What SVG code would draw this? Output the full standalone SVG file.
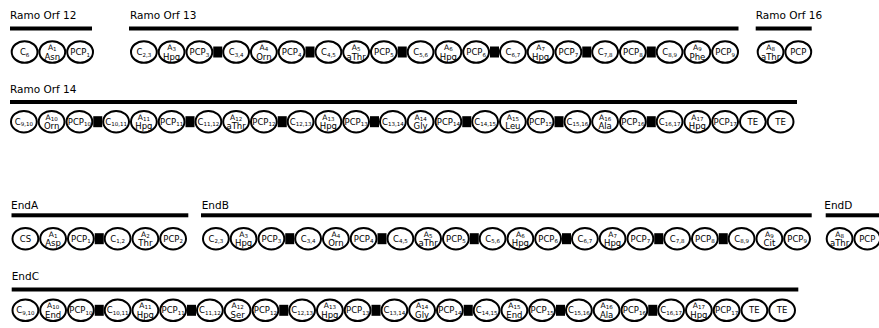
<svg xmlns="http://www.w3.org/2000/svg" xmlns:xlink="http://www.w3.org/1999/xlink" width="879" height="328" viewBox="0 0 879 328">
<style>
text{font-family:"DejaVu Sans",Verdana,"Liberation Sans",sans-serif;fill:#000}
.h{font-size:10.5px}
.t{font-size:8.5px;text-anchor:middle}
.a{font-size:7.5px;text-anchor:middle}
.b{font-size:8.5px;text-anchor:middle}
.s{font-size:5.5px}
.bar{fill:#000}
.lk{fill:#000}
.n{fill:#fff;stroke:#000;stroke-width:2}
</style>
<defs><ellipse id="e" class="n" rx="12.9" ry="10.8"/></defs>
<rect width="879" height="328" fill="#fff"/>
<g id="headers">
<text class="h" x="10" y="19">Ramo Orf 12</text>
<text class="h" x="130" y="19">Ramo Orf 13</text>
<text class="h" x="755.7" y="19">Ramo Orf 16</text>
<text class="h" x="10" y="92.5">Ramo Orf 14</text>
<text class="h" x="11" y="209">EndA</text>
<text class="h" x="201.7" y="209">EndB</text>
<text class="h" x="824.3" y="209">EndD</text>
<text class="h" x="11.7" y="280">EndC</text>
</g>
<g id="bars">
<rect class="bar" x="10" y="26.5" width="82" height="4"/>
<rect class="bar" x="129" y="26.5" width="609.5" height="4"/>
<rect class="bar" x="755.7" y="26.5" width="56" height="4"/>
<rect class="bar" x="10" y="100" width="787" height="4"/>
<rect class="bar" x="11.5" y="213.3" width="176.8" height="4"/>
<rect class="bar" x="201" y="213.3" width="610.7" height="4"/>
<rect class="bar" x="825.7" y="213.3" width="60" height="4"/>
<rect class="bar" x="11.7" y="287.5" width="786.6" height="4"/>
</g>
<g id="connectors">
<rect class="lk" x="213.25" y="46.5" width="9" height="11"/>
<rect class="lk" x="305.5" y="46.5" width="9" height="11"/>
<rect class="lk" x="397.75" y="46.5" width="9" height="11"/>
<rect class="lk" x="490" y="46.5" width="9" height="11"/>
<rect class="lk" x="582.25" y="46.5" width="9" height="11"/>
<rect class="lk" x="646.75" y="46.5" width="9" height="11"/>
<rect class="lk" x="93.25" y="116.2" width="9" height="11"/>
<rect class="lk" x="185.5" y="116.2" width="9" height="11"/>
<rect class="lk" x="277.75" y="116.2" width="9" height="11"/>
<rect class="lk" x="370" y="116.2" width="9" height="11"/>
<rect class="lk" x="462.25" y="116.2" width="9" height="11"/>
<rect class="lk" x="554.5" y="116.2" width="9" height="11"/>
<rect class="lk" x="646.75" y="116.2" width="9" height="11"/>
<rect class="lk" x="94.75" y="233.2" width="9" height="11"/>
<rect class="lk" x="285.25" y="233.2" width="9" height="11"/>
<rect class="lk" x="377.5" y="233.2" width="9" height="11"/>
<rect class="lk" x="469.75" y="233.2" width="9" height="11"/>
<rect class="lk" x="562" y="233.2" width="9" height="11"/>
<rect class="lk" x="654.25" y="233.2" width="9" height="11"/>
<rect class="lk" x="718.75" y="233.2" width="9" height="11"/>
<rect class="lk" x="94.75" y="304.8" width="9" height="11"/>
<rect class="lk" x="187" y="304.8" width="9" height="11"/>
<rect class="lk" x="279.25" y="304.8" width="9" height="11"/>
<rect class="lk" x="371.5" y="304.8" width="9" height="11"/>
<rect class="lk" x="463.75" y="304.8" width="9" height="11"/>
<rect class="lk" x="556" y="304.8" width="9" height="11"/>
<rect class="lk" x="648.25" y="304.8" width="9" height="11"/>
</g>
<!-- Row 1: Ramo Orf 12 -->
<g id="orf12-C6" transform="translate(24.6,52)"><use href="#e"/><text class="t" y="3">C<tspan class="s" dy="1.5">6</tspan></text></g>
<g id="orf12-A1" transform="translate(52.3,52)"><use href="#e"/><text class="a" y="-2">A<tspan class="s" dy="1">1</tspan></text><text class="b" y="7.5">Asn</text></g>
<g id="orf12-PCP1" transform="translate(80.1,52)"><use href="#e"/><text class="t" y="3">PCP<tspan class="s" dy="1.5">1</tspan></text></g>
<!-- Row 1: Ramo Orf 13 -->
<g id="orf13-C23" transform="translate(143.9,52)"><use href="#e"/><text class="t" y="3">C<tspan class="s" dy="1.5">2,3</tspan></text></g>
<g id="orf13-A3" transform="translate(171.6,52)"><use href="#e"/><text class="a" y="-2">A<tspan class="s" dy="1">3</tspan></text><text class="b" y="7.5">Hpg</text></g>
<g id="orf13-PCP3" transform="translate(199.4,52)"><use href="#e"/><text class="t" y="3">PCP<tspan class="s" dy="1.5">3</tspan></text></g>
<g id="orf13-C34" transform="translate(236.1,52)"><use href="#e"/><text class="t" y="3">C<tspan class="s" dy="1.5">3,4</tspan></text></g>
<g id="orf13-A4" transform="translate(263.9,52)"><use href="#e"/><text class="a" y="-2">A<tspan class="s" dy="1">4</tspan></text><text class="b" y="7.5">Orn</text></g>
<g id="orf13-PCP4" transform="translate(291.6,52)"><use href="#e"/><text class="t" y="3">PCP<tspan class="s" dy="1.5">4</tspan></text></g>
<g id="orf13-C45" transform="translate(328.4,52)"><use href="#e"/><text class="t" y="3">C<tspan class="s" dy="1.5">4,5</tspan></text></g>
<g id="orf13-A5" transform="translate(356.1,52)"><use href="#e"/><text class="a" y="-2">A<tspan class="s" dy="1">5</tspan></text><text class="b" y="7.5">aThr</text></g>
<g id="orf13-PCP5" transform="translate(383.9,52)"><use href="#e"/><text class="t" y="3">PCP<tspan class="s" dy="1.5">5</tspan></text></g>
<g id="orf13-C56" transform="translate(420.6,52)"><use href="#e"/><text class="t" y="3">C<tspan class="s" dy="1.5">5,6</tspan></text></g>
<g id="orf13-A6" transform="translate(448.4,52)"><use href="#e"/><text class="a" y="-2">A<tspan class="s" dy="1">6</tspan></text><text class="b" y="7.5">Hpg</text></g>
<g id="orf13-PCP6" transform="translate(476.1,52)"><use href="#e"/><text class="t" y="3">PCP<tspan class="s" dy="1.5">6</tspan></text></g>
<g id="orf13-C67" transform="translate(512.9,52)"><use href="#e"/><text class="t" y="3">C<tspan class="s" dy="1.5">6,7</tspan></text></g>
<g id="orf13-A7" transform="translate(540.6,52)"><use href="#e"/><text class="a" y="-2">A<tspan class="s" dy="1">7</tspan></text><text class="b" y="7.5">Hpg</text></g>
<g id="orf13-PCP7" transform="translate(568.4,52)"><use href="#e"/><text class="t" y="3">PCP<tspan class="s" dy="1.5">7</tspan></text></g>
<g id="orf13-C78" transform="translate(605.1,52)"><use href="#e"/><text class="t" y="3">C<tspan class="s" dy="1.5">7,8</tspan></text></g>
<g id="orf13-PCP8" transform="translate(632.9,52)"><use href="#e"/><text class="t" y="3">PCP<tspan class="s" dy="1.5">8</tspan></text></g>
<g id="orf13-C89" transform="translate(669.6,52)"><use href="#e"/><text class="t" y="3">C<tspan class="s" dy="1.5">8,9</tspan></text></g>
<g id="orf13-A9" transform="translate(697.4,52)"><use href="#e"/><text class="a" y="-2">A<tspan class="s" dy="1">9</tspan></text><text class="b" y="7.5">Phe</text></g>
<g id="orf13-PCP9" transform="translate(725.1,52)"><use href="#e"/><text class="t" y="3">PCP<tspan class="s" dy="1.5">9</tspan></text></g>
<!-- Row 1: Ramo Orf 16 -->
<g id="orf16-A8" transform="translate(770.6,52)"><use href="#e"/><text class="a" y="-2">A<tspan class="s" dy="1">8</tspan></text><text class="b" y="7.5">aThr</text></g>
<g id="orf16-PCP" transform="translate(798.3,52)"><use href="#e"/><text class="t" y="3">PCP</text></g>
<!-- Row 2: Ramo Orf 14 -->
<g id="orf14-C910" transform="translate(23.9,121.7)"><use href="#e"/><text class="t" y="3">C<tspan class="s" dy="1.5">9,10</tspan></text></g>
<g id="orf14-A10" transform="translate(51.6,121.7)"><use href="#e"/><text class="a" y="-2">A<tspan class="s" dy="1">10</tspan></text><text class="b" y="7.5">Orn</text></g>
<g id="orf14-PCP10" transform="translate(79.4,121.7)"><use href="#e"/><text class="t" y="3">PCP<tspan class="s" dy="1.5">10</tspan></text></g>
<g id="orf14-C1011" transform="translate(116.1,121.7)"><use href="#e"/><text class="t" y="3">C<tspan class="s" dy="1.5">10,11</tspan></text></g>
<g id="orf14-A11" transform="translate(143.9,121.7)"><use href="#e"/><text class="a" y="-2">A<tspan class="s" dy="1">11</tspan></text><text class="b" y="7.5">Hpg</text></g>
<g id="orf14-PCP11" transform="translate(171.6,121.7)"><use href="#e"/><text class="t" y="3">PCP<tspan class="s" dy="1.5">11</tspan></text></g>
<g id="orf14-C1112" transform="translate(208.4,121.7)"><use href="#e"/><text class="t" y="3">C<tspan class="s" dy="1.5">11,12</tspan></text></g>
<g id="orf14-A12" transform="translate(236.1,121.7)"><use href="#e"/><text class="a" y="-2">A<tspan class="s" dy="1">12</tspan></text><text class="b" y="7.5">aThr</text></g>
<g id="orf14-PCP12" transform="translate(263.9,121.7)"><use href="#e"/><text class="t" y="3">PCP<tspan class="s" dy="1.5">12</tspan></text></g>
<g id="orf14-C1213" transform="translate(300.6,121.7)"><use href="#e"/><text class="t" y="3">C<tspan class="s" dy="1.5">12,13</tspan></text></g>
<g id="orf14-A13" transform="translate(328.4,121.7)"><use href="#e"/><text class="a" y="-2">A<tspan class="s" dy="1">13</tspan></text><text class="b" y="7.5">Hpg</text></g>
<g id="orf14-PCP13" transform="translate(356.1,121.7)"><use href="#e"/><text class="t" y="3">PCP<tspan class="s" dy="1.5">13</tspan></text></g>
<g id="orf14-C1314" transform="translate(392.9,121.7)"><use href="#e"/><text class="t" y="3">C<tspan class="s" dy="1.5">13,14</tspan></text></g>
<g id="orf14-A14" transform="translate(420.6,121.7)"><use href="#e"/><text class="a" y="-2">A<tspan class="s" dy="1">14</tspan></text><text class="b" y="7.5">Gly</text></g>
<g id="orf14-PCP14" transform="translate(448.4,121.7)"><use href="#e"/><text class="t" y="3">PCP<tspan class="s" dy="1.5">14</tspan></text></g>
<g id="orf14-C1415" transform="translate(485.1,121.7)"><use href="#e"/><text class="t" y="3">C<tspan class="s" dy="1.5">14,15</tspan></text></g>
<g id="orf14-A15" transform="translate(512.9,121.7)"><use href="#e"/><text class="a" y="-2">A<tspan class="s" dy="1">15</tspan></text><text class="b" y="7.5">Leu</text></g>
<g id="orf14-PCP15" transform="translate(540.6,121.7)"><use href="#e"/><text class="t" y="3">PCP<tspan class="s" dy="1.5">15</tspan></text></g>
<g id="orf14-C1516" transform="translate(577.4,121.7)"><use href="#e"/><text class="t" y="3">C<tspan class="s" dy="1.5">15,16</tspan></text></g>
<g id="orf14-A16" transform="translate(605.1,121.7)"><use href="#e"/><text class="a" y="-2">A<tspan class="s" dy="1">16</tspan></text><text class="b" y="7.5">Ala</text></g>
<g id="orf14-PCP16" transform="translate(632.9,121.7)"><use href="#e"/><text class="t" y="3">PCP<tspan class="s" dy="1.5">16</tspan></text></g>
<g id="orf14-C1617" transform="translate(669.6,121.7)"><use href="#e"/><text class="t" y="3">C<tspan class="s" dy="1.5">16,17</tspan></text></g>
<g id="orf14-A17" transform="translate(697.4,121.7)"><use href="#e"/><text class="a" y="-2">A<tspan class="s" dy="1">17</tspan></text><text class="b" y="7.5">Hpg</text></g>
<g id="orf14-PCP17" transform="translate(725.1,121.7)"><use href="#e"/><text class="t" y="3">PCP<tspan class="s" dy="1.5">17</tspan></text></g>
<g id="orf14-TE1" transform="translate(752.9,121.7)"><use href="#e"/><text class="t" y="3">TE</text></g>
<g id="orf14-TE2" transform="translate(780.6,121.7)"><use href="#e"/><text class="t" y="3">TE</text></g>
<!-- Row 3: EndA -->
<g id="endA-CS" transform="translate(25.4,238.7)"><use href="#e"/><text class="t" y="3">CS</text></g>
<g id="endA-A1" transform="translate(53.1,238.7)"><use href="#e"/><text class="a" y="-2">A<tspan class="s" dy="1">1</tspan></text><text class="b" y="7.5">Asp</text></g>
<g id="endA-PCP1" transform="translate(80.9,238.7)"><use href="#e"/><text class="t" y="3">PCP<tspan class="s" dy="1.5">1</tspan></text></g>
<g id="endA-C12" transform="translate(117.6,238.7)"><use href="#e"/><text class="t" y="3">C<tspan class="s" dy="1.5">1,2</tspan></text></g>
<g id="endA-A2" transform="translate(145.4,238.7)"><use href="#e"/><text class="a" y="-2">A<tspan class="s" dy="1">2</tspan></text><text class="b" y="7.5">Thr</text></g>
<g id="endA-PCP2" transform="translate(173.1,238.7)"><use href="#e"/><text class="t" y="3">PCP<tspan class="s" dy="1.5">2</tspan></text></g>
<!-- Row 3: EndB -->
<g id="endB-C23" transform="translate(215.9,238.7)"><use href="#e"/><text class="t" y="3">C<tspan class="s" dy="1.5">2,3</tspan></text></g>
<g id="endB-A3" transform="translate(243.6,238.7)"><use href="#e"/><text class="a" y="-2">A<tspan class="s" dy="1">3</tspan></text><text class="b" y="7.5">Hpg</text></g>
<g id="endB-PCP3" transform="translate(271.4,238.7)"><use href="#e"/><text class="t" y="3">PCP<tspan class="s" dy="1.5">3</tspan></text></g>
<g id="endB-C34" transform="translate(308.1,238.7)"><use href="#e"/><text class="t" y="3">C<tspan class="s" dy="1.5">3,4</tspan></text></g>
<g id="endB-A4" transform="translate(335.9,238.7)"><use href="#e"/><text class="a" y="-2">A<tspan class="s" dy="1">4</tspan></text><text class="b" y="7.5">Orn</text></g>
<g id="endB-PCP4" transform="translate(363.6,238.7)"><use href="#e"/><text class="t" y="3">PCP<tspan class="s" dy="1.5">4</tspan></text></g>
<g id="endB-C45" transform="translate(400.4,238.7)"><use href="#e"/><text class="t" y="3">C<tspan class="s" dy="1.5">4,5</tspan></text></g>
<g id="endB-A5" transform="translate(428.1,238.7)"><use href="#e"/><text class="a" y="-2">A<tspan class="s" dy="1">5</tspan></text><text class="b" y="7.5">aThr</text></g>
<g id="endB-PCP5" transform="translate(455.9,238.7)"><use href="#e"/><text class="t" y="3">PCP<tspan class="s" dy="1.5">5</tspan></text></g>
<g id="endB-C56" transform="translate(492.6,238.7)"><use href="#e"/><text class="t" y="3">C<tspan class="s" dy="1.5">5,6</tspan></text></g>
<g id="endB-A6" transform="translate(520.4,238.7)"><use href="#e"/><text class="a" y="-2">A<tspan class="s" dy="1">6</tspan></text><text class="b" y="7.5">Hpg</text></g>
<g id="endB-PCP6" transform="translate(548.1,238.7)"><use href="#e"/><text class="t" y="3">PCP<tspan class="s" dy="1.5">6</tspan></text></g>
<g id="endB-C67" transform="translate(584.9,238.7)"><use href="#e"/><text class="t" y="3">C<tspan class="s" dy="1.5">6,7</tspan></text></g>
<g id="endB-A7" transform="translate(612.6,238.7)"><use href="#e"/><text class="a" y="-2">A<tspan class="s" dy="1">7</tspan></text><text class="b" y="7.5">Hpg</text></g>
<g id="endB-PCP7" transform="translate(640.4,238.7)"><use href="#e"/><text class="t" y="3">PCP<tspan class="s" dy="1.5">7</tspan></text></g>
<g id="endB-C78" transform="translate(677.1,238.7)"><use href="#e"/><text class="t" y="3">C<tspan class="s" dy="1.5">7,8</tspan></text></g>
<g id="endB-PCP8" transform="translate(704.9,238.7)"><use href="#e"/><text class="t" y="3">PCP<tspan class="s" dy="1.5">8</tspan></text></g>
<g id="endB-C89" transform="translate(741.6,238.7)"><use href="#e"/><text class="t" y="3">C<tspan class="s" dy="1.5">8,9</tspan></text></g>
<g id="endB-A9" transform="translate(769.4,238.7)"><use href="#e"/><text class="a" y="-2">A<tspan class="s" dy="1">9</tspan></text><text class="b" y="7.5">Cit</text></g>
<g id="endB-PCP9" transform="translate(797.1,238.7)"><use href="#e"/><text class="t" y="3">PCP<tspan class="s" dy="1.5">9</tspan></text></g>
<!-- Row 3: EndD -->
<g id="endD-A8" transform="translate(839.6,238.7)"><use href="#e"/><text class="a" y="-2">A<tspan class="s" dy="1">8</tspan></text><text class="b" y="7.5">aThr</text></g>
<g id="endD-PCP" transform="translate(867.3,238.7)"><use href="#e"/><text class="t" y="3">PCP</text></g>
<!-- Row 4: EndC -->
<g id="endC-C910" transform="translate(25.4,310.3)"><use href="#e"/><text class="t" y="3">C<tspan class="s" dy="1.5">9,10</tspan></text></g>
<g id="endC-A10" transform="translate(53.1,310.3)"><use href="#e"/><text class="a" y="-2">A<tspan class="s" dy="1">10</tspan></text><text class="b" y="7.5">End</text></g>
<g id="endC-PCP10" transform="translate(80.9,310.3)"><use href="#e"/><text class="t" y="3">PCP<tspan class="s" dy="1.5">10</tspan></text></g>
<g id="endC-C1011" transform="translate(117.6,310.3)"><use href="#e"/><text class="t" y="3">C<tspan class="s" dy="1.5">10,11</tspan></text></g>
<g id="endC-A11" transform="translate(145.4,310.3)"><use href="#e"/><text class="a" y="-2">A<tspan class="s" dy="1">11</tspan></text><text class="b" y="7.5">Hpg</text></g>
<g id="endC-PCP11" transform="translate(173.1,310.3)"><use href="#e"/><text class="t" y="3">PCP<tspan class="s" dy="1.5">11</tspan></text></g>
<g id="endC-C1112" transform="translate(209.9,310.3)"><use href="#e"/><text class="t" y="3">C<tspan class="s" dy="1.5">11,12</tspan></text></g>
<g id="endC-A12" transform="translate(237.6,310.3)"><use href="#e"/><text class="a" y="-2">A<tspan class="s" dy="1">12</tspan></text><text class="b" y="7.5">Ser</text></g>
<g id="endC-PCP12" transform="translate(265.4,310.3)"><use href="#e"/><text class="t" y="3">PCP<tspan class="s" dy="1.5">12</tspan></text></g>
<g id="endC-C1213" transform="translate(302.1,310.3)"><use href="#e"/><text class="t" y="3">C<tspan class="s" dy="1.5">12,13</tspan></text></g>
<g id="endC-A13" transform="translate(329.9,310.3)"><use href="#e"/><text class="a" y="-2">A<tspan class="s" dy="1">13</tspan></text><text class="b" y="7.5">Hpg</text></g>
<g id="endC-PCP13" transform="translate(357.6,310.3)"><use href="#e"/><text class="t" y="3">PCP<tspan class="s" dy="1.5">13</tspan></text></g>
<g id="endC-C1314" transform="translate(394.4,310.3)"><use href="#e"/><text class="t" y="3">C<tspan class="s" dy="1.5">13,14</tspan></text></g>
<g id="endC-A14" transform="translate(422.1,310.3)"><use href="#e"/><text class="a" y="-2">A<tspan class="s" dy="1">14</tspan></text><text class="b" y="7.5">Gly</text></g>
<g id="endC-PCP14" transform="translate(449.9,310.3)"><use href="#e"/><text class="t" y="3">PCP<tspan class="s" dy="1.5">14</tspan></text></g>
<g id="endC-C1415" transform="translate(486.6,310.3)"><use href="#e"/><text class="t" y="3">C<tspan class="s" dy="1.5">14,15</tspan></text></g>
<g id="endC-A15" transform="translate(514.4,310.3)"><use href="#e"/><text class="a" y="-2">A<tspan class="s" dy="1">15</tspan></text><text class="b" y="7.5">End</text></g>
<g id="endC-PCP15" transform="translate(542.1,310.3)"><use href="#e"/><text class="t" y="3">PCP<tspan class="s" dy="1.5">15</tspan></text></g>
<g id="endC-C1516" transform="translate(578.9,310.3)"><use href="#e"/><text class="t" y="3">C<tspan class="s" dy="1.5">15,16</tspan></text></g>
<g id="endC-A16" transform="translate(606.6,310.3)"><use href="#e"/><text class="a" y="-2">A<tspan class="s" dy="1">16</tspan></text><text class="b" y="7.5">Ala</text></g>
<g id="endC-PCP16" transform="translate(634.4,310.3)"><use href="#e"/><text class="t" y="3">PCP<tspan class="s" dy="1.5">16</tspan></text></g>
<g id="endC-C1617" transform="translate(671.1,310.3)"><use href="#e"/><text class="t" y="3">C<tspan class="s" dy="1.5">16,17</tspan></text></g>
<g id="endC-A17" transform="translate(698.9,310.3)"><use href="#e"/><text class="a" y="-2">A<tspan class="s" dy="1">17</tspan></text><text class="b" y="7.5">Hpg</text></g>
<g id="endC-PCP17" transform="translate(726.6,310.3)"><use href="#e"/><text class="t" y="3">PCP<tspan class="s" dy="1.5">17</tspan></text></g>
<g id="endC-TE1" transform="translate(754.4,310.3)"><use href="#e"/><text class="t" y="3">TE</text></g>
<g id="endC-TE2" transform="translate(782.1,310.3)"><use href="#e"/><text class="t" y="3">TE</text></g>
</svg>
